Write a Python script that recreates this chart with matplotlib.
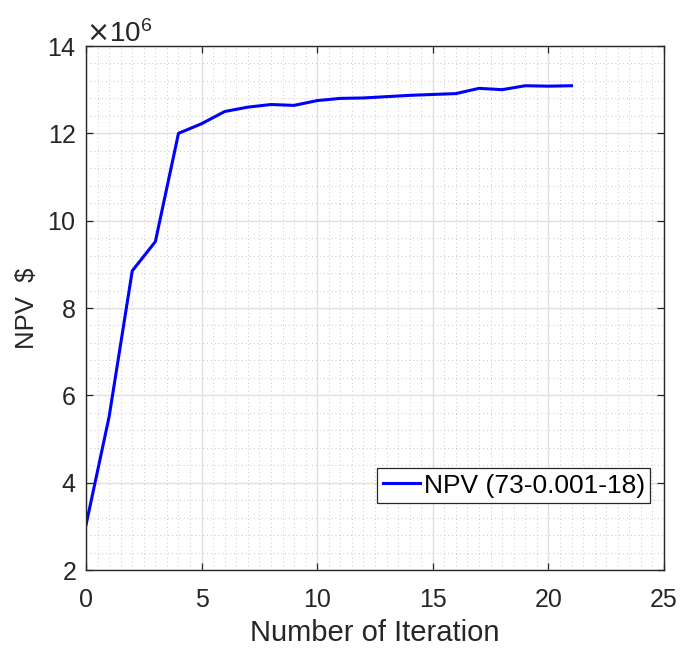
import matplotlib
matplotlib.use("Agg")
import matplotlib.pyplot as plt
from matplotlib.ticker import MultipleLocator, ScalarFormatter

plt.rcParams['font.family'] = ['Liberation Sans', 'DejaVu Sans']

iterations = list(range(22))
npv_millions = [3.03, 5.51, 8.85, 9.52, 12.0, 12.22, 12.50, 12.60, 12.66, 12.64,
                12.75, 12.80, 12.81, 12.84, 12.87, 12.89, 12.91, 13.03, 13.00,
                13.09, 13.08, 13.09]
legend_label = "NPV (73-0.001-18)"
x_label = "Number of Iteration"
y_label = "NPV  $"

npv = [v * 1e6 for v in npv_millions]

fig = plt.figure(figsize=(6.84, 6.48), dpi=100)
ax = fig.add_axes([86/684, 1 - 570/648, (664-86)/684, (570-46)/648])

ax.plot(iterations, npv, color=(0, 0, 1), lw=2.2, label=legend_label)

ax.set_xlim(0, 25)
ax.set_ylim(2e6, 14e6)
ax.xaxis.set_major_locator(MultipleLocator(5))
ax.xaxis.set_minor_locator(MultipleLocator(0.5))
ax.yaxis.set_major_locator(MultipleLocator(2e6))
ax.yaxis.set_minor_locator(MultipleLocator(0.4e6))

fmt = ScalarFormatter(useMathText=True)
fmt.set_powerlimits((6, 6))
ax.yaxis.set_major_formatter(fmt)
ot = ax.yaxis.get_offset_text()
ot.set_fontsize(20)
ot.set_color('#4d4d4d')

ax.grid(which='major', color='#e0e0e0', lw=1.0, ls='-')
ax.grid(which='minor', color='#c8c8c8', lw=0.7, ls=(0, (1, 3)))
ax.set_axisbelow(True)

ax.tick_params(which='both', direction='in', top=True, right=True, colors='#262626',
               labelsize=18, labelcolor='#262626')
ax.tick_params(which='major', length=5, width=0.9)
ax.tick_params(axis='x', which='major', pad=13)
ax.tick_params(axis='y', which='major', pad=7)
ax.tick_params(which='minor', length=0)
for s in ax.spines.values():
    s.set_color('#262626')
    s.set_linewidth(1.0)

ax.set_xlabel(x_label, fontsize=21, color='#262626', labelpad=5)
ax.set_ylabel(y_label, fontsize=18.5, color='#262626', labelpad=6)

leg = ax.legend(loc='lower right', bbox_to_anchor=((650-86)/578, (570-503)/524),
                borderaxespad=0, fontsize=19,
                fancybox=False, framealpha=1, edgecolor='#262626',
                handlelength=1.4, handletextpad=0.15, borderpad=0.2)
leg.get_frame().set_linewidth(0.9)

fig.savefig("out.png", dpi=100)
